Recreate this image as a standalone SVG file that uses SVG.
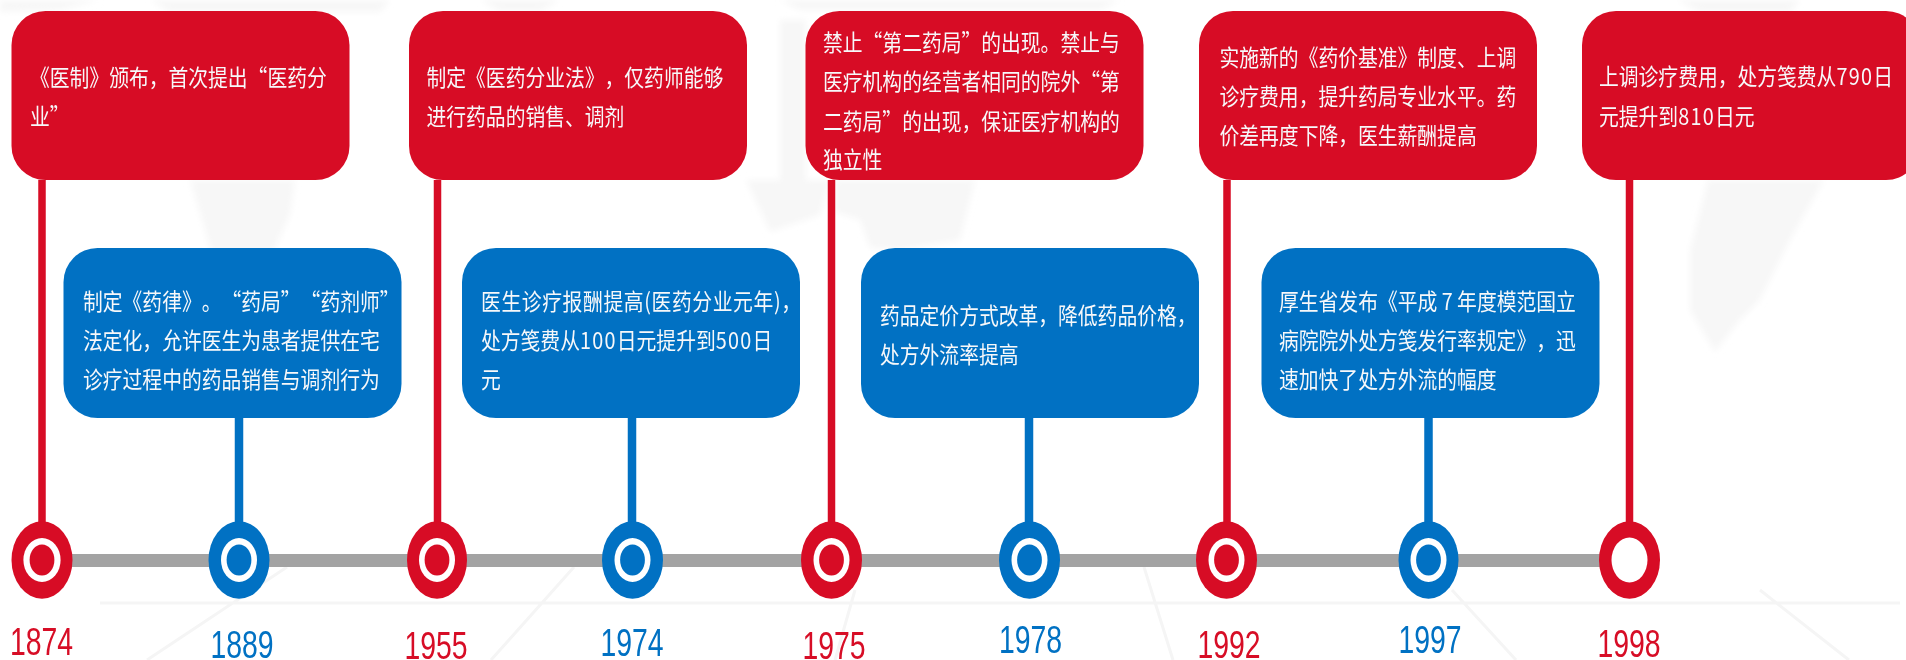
<svg xmlns="http://www.w3.org/2000/svg" width="1906" height="660" viewBox="0 0 1906 660">
<defs>
<filter id="s" x="-5%" y="-20%" width="110%" height="140%"><feGaussianBlur stdDeviation="0.35"/></filter>
<filter id="f" x="-5%" y="-5%" width="110%" height="110%"><feGaussianBlur stdDeviation="3"/></filter>
<style>
.r{fill:#d70c25}.b{fill:#0171c3}.w{fill:#fff}
.bx{rx:34px;ry:34px}
.cr{stroke:#d70c25;stroke-width:7.5;fill:none}
.cb{stroke:#0171c3;stroke-width:8.5;fill:none}
.t{font-family:"Noto Sans CJK SC","Liberation Sans",sans-serif;font-size:19.8px;fill:#f7f8fa;text-spacing-trim:space-all;font-kerning:none;filter:url(#s)}
.y{font-family:"Liberation Sans",Arial,sans-serif;font-size:28.4px;text-anchor:middle;filter:url(#s)}
.bg{fill:#f7f7f7}
.bl{stroke:#f5f5f5;stroke-width:3;fill:none}
.d{letter-spacing:1.3px}
</style>
</defs>
<rect width="1906" height="660" fill="#fff"/>
<g id="background" filter="url(#f)">
<path class="bg" d="M0 0H100L60 10 0 12ZM150 0H390L380 12H170ZM480 0H560L540 11H500ZM780 0H1120L1100 10H800ZM1677 0H1800L1790 12H1700Z"/>
<path class="bg" d="M190 180H295L290 215 265 270 240 290 222 290 205 230Z"/>
<path class="bg" d="M746 180H830L820 215 770 232 760 210Z"/>
<path class="bg" d="M835 180H975L960 240 900 250 870 248 860 220 835 212Z"/>
<path class="bg" d="M780 20H806V200L780 190Z"/>
<path class="bg" d="M1708 180H1824L1790 240 1760 300 1740 320 1715 352 1690 310 1690 250Z"/>
</g>
<g id="floor" filter="url(#s)">
<path class="bl" d="M100 603H1900M287 567L147 660M574 567L491 660M855 590L835 660M1144 567L1173 660M1452 590L1516 660M1760 590L1849 660"/>
</g>
<g id="connectors">
<rect x="60" y="554" width="1550" height="13" fill="#a3a3a3"/>
<path class="cr" d="M42 180V525M437.500 180V525M831.500 180V525M1227 180V525M1629.500 180V525"/>
<path class="cb" d="M239 418V525M632 418V525M1029 418V525M1428.500 418V525"/>
</g>
<g id="e1874">
<rect class="r bx" x="11.500" y="11" width="338" height="169"/>
<text class="t" transform="translate(30 86) scale(1 1.17)">《医制》颁布，首次提出“医药分</text>
<text class="t" transform="translate(30 124.500) scale(1 1.17)">业”</text>
<ellipse class="r" cx="42" cy="560" rx="30.500" ry="38.700"/><ellipse class="w" cx="42" cy="560" rx="18.600" ry="22"/><ellipse class="r" cx="42" cy="560" rx="12.400" ry="15.500"/>
<text class="y r" transform="translate(41.500 655) scale(1 1.34)">1874</text>
</g>
<g id="e1889">
<rect class="b bx" x="63.500" y="248" width="338" height="170"/>
<text class="t" transform="translate(83 309.500) scale(1 1.17)">制定《药律》。“药局”“药剂师”</text>
<text class="t" transform="translate(83 348.500) scale(1 1.17)">法定化，允许医生为患者提供在宅</text>
<text class="t" transform="translate(83 387.500) scale(1 1.17)">诊疗过程中的药品销售与调剂行为</text>
<ellipse class="b" cx="239" cy="560" rx="30.500" ry="38.700"/><ellipse class="w" cx="239" cy="560" rx="18" ry="22"/><ellipse class="b" cx="239" cy="560" rx="12.400" ry="15.500"/>
<text class="y b" transform="translate(242 658) scale(1 1.34)">1889</text>
</g>
<g id="e1955">
<rect class="r bx" x="409" y="11" width="338" height="169"/>
<text class="t" transform="translate(426.500 86) scale(1 1.17)">制定《医药分业法》，仅药师能够</text>
<text class="t" transform="translate(426.500 124.500) scale(1 1.17)">进行药品的销售、调剂</text>
<ellipse class="r" cx="437" cy="560" rx="30" ry="38.700"/><ellipse class="w" cx="437" cy="560" rx="18" ry="22"/><ellipse class="r" cx="437" cy="560" rx="12.400" ry="15.500"/>
<text class="y r" transform="translate(436 659) scale(1 1.34)">1955</text>
</g>
<g id="e1974">
<rect class="b bx" x="462" y="248" width="338" height="170"/>
<text class="t" textLength="320" transform="translate(481 309.500) scale(1 1.17)">医生诊疗报酬提高(医药分业元年)，</text>
<text class="t" transform="translate(481 348.500) scale(1 1.17)">处方笺费从<tspan class="d">100</tspan>日元提升到<tspan class="d">500</tspan>日</text>
<text class="t" transform="translate(481 387.500) scale(1 1.17)">元</text>
<ellipse class="b" cx="632.500" cy="560" rx="30.500" ry="38.700"/><ellipse class="w" cx="632.500" cy="560" rx="18" ry="22"/><ellipse class="b" cx="632.500" cy="560" rx="12.400" ry="15.500"/>
<text class="y b" transform="translate(632 656) scale(1 1.34)">1974</text>
</g>
<g id="e1975">
<rect class="r bx" x="805.500" y="11" width="338" height="169"/>
<text class="t" transform="translate(823 51) scale(1 1.17)">禁止“第二药局”的出现。禁止与</text>
<text class="t" transform="translate(823 90) scale(1 1.17)">医疗机构的经营者相同的院外“第</text>
<text class="t" transform="translate(823 129.500) scale(1 1.17)">二药局”的出现，保证医疗机构的</text>
<text class="t" transform="translate(823 168) scale(1 1.17)">独立性</text>
<ellipse class="r" cx="831.500" cy="560" rx="30.500" ry="38.700"/><ellipse class="w" cx="831.500" cy="560" rx="18" ry="22"/><ellipse class="r" cx="831.500" cy="560" rx="12.400" ry="15.500"/>
<text class="y r" transform="translate(834 659) scale(1 1.34)">1975</text>
</g>
<g id="e1978">
<rect class="b bx" x="861" y="248" width="338" height="170"/>
<text class="t" transform="translate(880 324) scale(1 1.17)">药品定价方式改革，降低药品价格，</text>
<text class="t" transform="translate(880 363) scale(1 1.17)">处方外流率提高</text>
<ellipse class="b" cx="1029.500" cy="560" rx="30.500" ry="38.700"/><ellipse class="w" cx="1029.500" cy="560" rx="18" ry="22"/><ellipse class="b" cx="1029.500" cy="560" rx="12.400" ry="15.500"/>
<text class="y b" transform="translate(1030.500 653) scale(1 1.34)">1978</text>
</g>
<g id="e1992">
<rect class="r bx" x="1199" y="11" width="338" height="169"/>
<text class="t" transform="translate(1219.500 66) scale(1 1.17)">实施新的《药价基准》制度、上调</text>
<text class="t" transform="translate(1219.500 105) scale(1 1.17)">诊疗费用，提升药局专业水平。药</text>
<text class="t" transform="translate(1219.500 144) scale(1 1.17)">价差再度下降，医生薪酬提高</text>
<ellipse class="r" cx="1226.500" cy="560" rx="30.500" ry="38.700"/><ellipse class="w" cx="1226.500" cy="560" rx="18" ry="22"/><ellipse class="r" cx="1226.500" cy="560" rx="12.400" ry="15.500"/>
<text class="y r" transform="translate(1229 658) scale(1 1.34)">1992</text>
</g>
<g id="e1997">
<rect class="b bx" x="1261.500" y="248" width="338" height="170"/>
<text class="t" transform="translate(1279 309.500) scale(1 1.17)">厚生省发布《平成 7 年度模范国立</text>
<text class="t" transform="translate(1279 348.500) scale(1 1.17)">病院院外处方笺发行率规定》，迅</text>
<text class="t" transform="translate(1279 387.500) scale(1 1.17)">速加快了处方外流的幅度</text>
<ellipse class="b" cx="1428.500" cy="560" rx="30" ry="38.700"/><ellipse class="w" cx="1428.500" cy="560" rx="18" ry="22"/><ellipse class="b" cx="1428.500" cy="560" rx="12.400" ry="15.500"/>
<text class="y b" transform="translate(1430 653) scale(1 1.34)">1997</text>
</g>
<g id="e1998">
<rect class="r bx" x="1582" y="11" width="338" height="169"/>
<text class="t" transform="translate(1599 85) scale(1 1.17)">上调诊疗费用，处方笺费从<tspan class="d">790</tspan>日</text>
<text class="t" transform="translate(1599 124.500) scale(1 1.17)">元提升到<tspan class="d">810</tspan>日元</text>
<ellipse class="r" cx="1629.500" cy="560" rx="30.500" ry="38.700"/><ellipse class="w" cx="1629.500" cy="560" rx="18" ry="22.500"/>
<text class="y r" transform="translate(1629 657) scale(1 1.34)">1998</text>
</g>
</svg>
